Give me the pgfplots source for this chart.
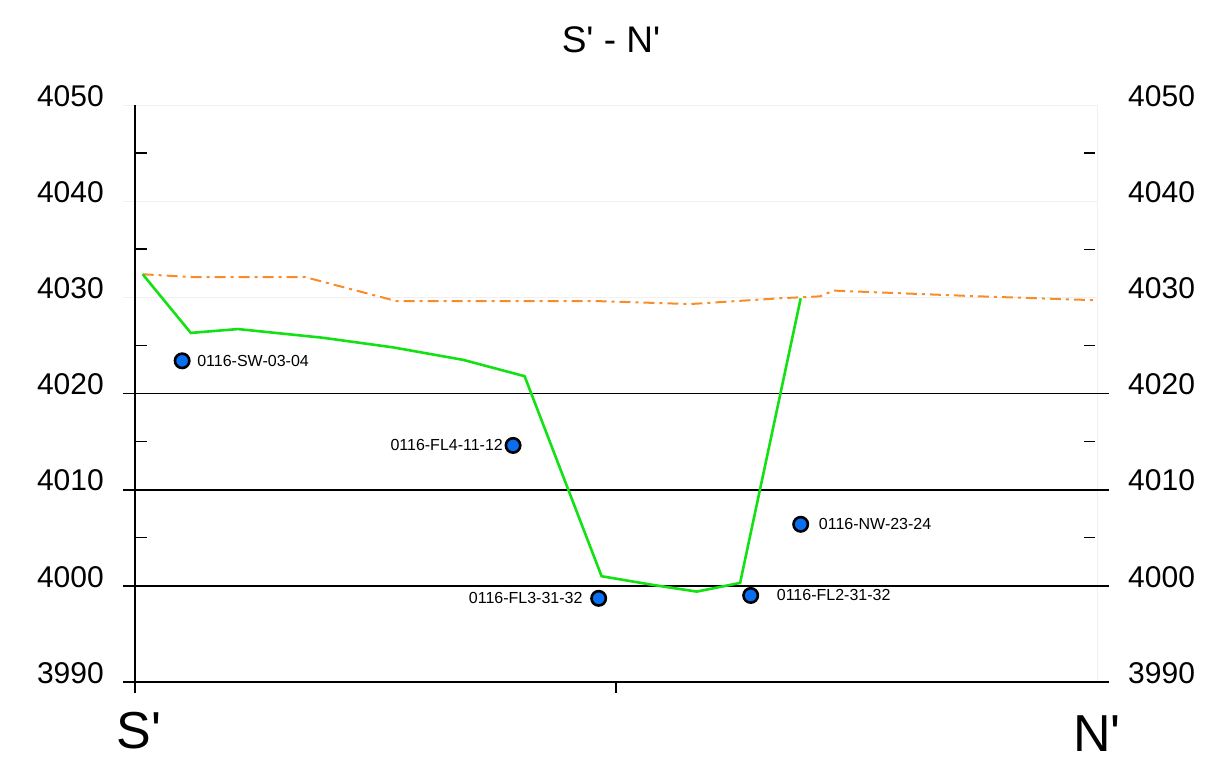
\documentclass[border=0pt]{standalone}
\usepackage{fontspec}
\setmainfont{Liberation Sans}
\usepackage{pgfplots}
\pgfplotsset{compat=1.18}
\definecolor{gline}{RGB}{20,225,20}
\definecolor{oline}{RGB}{250,140,40}
\definecolor{bfill}{RGB}{10,110,240}
\definecolor{faint}{RGB}{240,240,240}
\begin{document}
\begin{tikzpicture}
\useasboundingbox (0,0) rectangle (1208pt,760pt);
\begin{axis}[
  at={(135pt,78pt)}, anchor=south west, scale only axis,
  width=962pt, height=577pt,
  xmin=0, xmax=100, ymin=3990, ymax=4050, clip=false,
  axis line style={draw=none},
  xtick=\empty,
  ytick={3990,4000,...,4050},
  minor ytick={4005,4015,4025,4035,4045},
  major tick length=0pt, minor tick length=12pt,
  tick align=inside, ytick pos=left,
  tick style={black, line width=1.5pt},
  /pgf/number format/assume math mode=true,
  /pgf/number format/1000 sep={},
  yticklabel style={anchor=east, inner sep=0pt, xshift=-31pt, yshift=9pt, font=\fontsize{30}{30}\selectfont},
]
% faint frame lines
\draw[faint, line width=1pt] (axis cs:-1.25,4030) -- (axis cs:100,4030);
\draw[faint, line width=1pt] (axis cs:-1.25,4040) -- (axis cs:100,4040);
\draw[faint, line width=1pt] (axis cs:-1.25,4050) -- (axis cs:100,4050);
\draw[faint, line width=1pt] (axis cs:100,3990) -- (axis cs:100,4050);
% black level lines
\draw[black, line width=1.8pt] (axis cs:-1.25,4020) -- (axis cs:101.2,4020);
\draw[black, line width=1.8pt] (axis cs:-1.25,4010) -- (axis cs:101.2,4010);
\draw[black, line width=1.8pt] (axis cs:-1.25,4000) -- (axis cs:101.2,4000);
\draw[black, line width=1.8pt] (axis cs:-1.25,3990) -- (axis cs:101.2,3990);
% left axis and x ticks
\draw[black, line width=2.2pt] (axis cs:0,3988.86) -- (axis cs:0,4050);
\draw[black, line width=1.5pt] (axis cs:50,3990) -- (axis cs:50,3988.86);
% orange dash-dot line
\addplot[oline, line width=2pt, dash pattern=on 11pt off 5pt on 3pt off 5pt] coordinates {
 (0.8,4032.4) (6.0,4032.1) (17.7,4032.1) (27.2,4029.6) (43.1,4029.6) (48.3,4029.6)
 (57.7,4029.3) (67.0,4029.9) (71.2,4030.1) (72.6,4030.7) (87.8,4030.1) (99.8,4029.7)
};
% green line
\addplot[gline, line width=2.6pt] coordinates {
 (0.8,4032.4) (5.8,4026.3) (10.7,4026.7) (19.5,4025.8) (26.8,4024.8) (34.1,4023.5)
 (40.5,4021.8) (48.5,4001.0) (53.8,4000.1) (58.4,3999.4) (62.9,4000.3) (69.2,4029.9)
};
% sample points
\addplot[only marks, mark=*, mark size=7.2pt, mark options={fill=bfill, draw=black, line width=2.6pt}] coordinates {
 (4.9,4023.4) (39.3,4014.6) (48.2,3998.7) (64.0,3999.0) (69.2,4006.4)
};
\node[anchor=west, inner sep=0pt, xshift=15pt, font=\fontsize{16}{16}\selectfont] at (axis cs:4.9,4023.4) {0116-SW-03-04};
\node[anchor=east, inner sep=0pt, xshift=-10pt, font=\fontsize{16}{16}\selectfont] at (axis cs:39.3,4014.6) {0116-FL4-11-12};
\node[anchor=east, inner sep=0pt, xshift=-16pt, font=\fontsize{16}{16}\selectfont] at (axis cs:48.2,3998.7) {0116-FL3-31-32};
\node[anchor=west, inner sep=0pt, xshift=26pt, font=\fontsize{16}{16}\selectfont] at (axis cs:64.0,3999.0) {0116-FL2-31-32};
\node[anchor=west, inner sep=0pt, xshift=18pt, font=\fontsize{16}{16}\selectfont] at (axis cs:69.2,4006.4) {0116-NW-23-24};
\end{axis}
\begin{axis}[
  at={(135pt,78pt)}, anchor=south west, scale only axis,
  width=962pt, height=577pt,
  xmin=0, xmax=100, ymin=3990, ymax=4050,
  axis line style={draw=none},
  xtick=\empty,
  ytick={3990,4000,...,4050},
  minor ytick={4005,4015,4025,4035,4045},
  major tick length=0pt, minor tick length=11pt,
  tick align=inside, ytick pos=right, yticklabel pos=right,
  tick style={black, line width=1.2pt, xshift=-2pt},
  /pgf/number format/assume math mode=true,
  /pgf/number format/1000 sep={},
  yticklabel style={anchor=west, inner sep=0pt, xshift=31pt, yshift=9pt, font=\fontsize{30}{30}\selectfont},
]
\end{axis}
\node[font=\fontsize{37}{37}\selectfont] at (611pt,720pt) {S\textquotesingle{} - N\textquotesingle};
\node[font=\fontsize{52}{52}\selectfont] at (139pt,29pt) {S\textquotesingle};
\node[font=\fontsize{52}{52}\selectfont] at (1097pt,26.5pt) {N\textquotesingle};
\end{tikzpicture}
\end{document}
